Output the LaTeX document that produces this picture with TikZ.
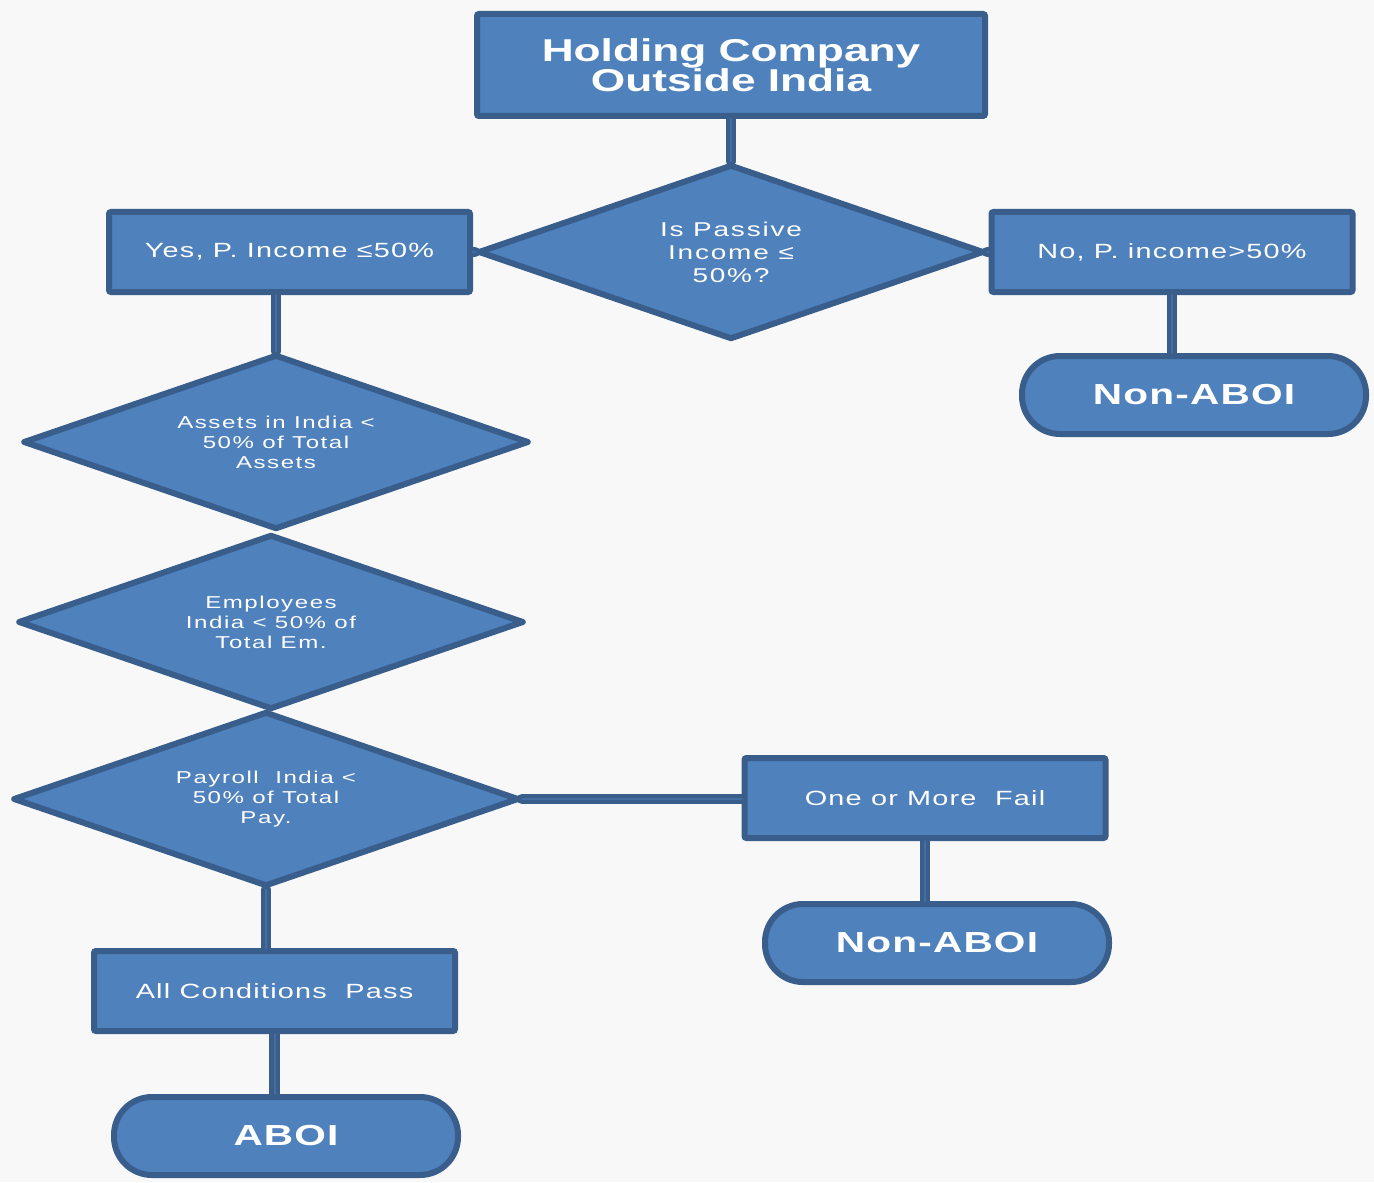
\documentclass[tikz,border=0pt]{standalone}
\usepackage{fontspec}
\setmainfont{Liberation Sans}[FakeStretch=1.4]
\usetikzlibrary{shapes.geometric,positioning}
\definecolor{boxfill}{RGB}{79,129,189}
\definecolor{boxline}{RGB}{57,94,140}
\definecolor{paper}{RGB}{248,248,248}

\tikzset{
  base/.style={draw=boxline, fill=boxfill, line width=3pt, text=white, align=center, inner sep=0pt},
  block/.style={base, rectangle, rounded corners=1pt, minimum width=180.5pt, minimum height=40pt,
    font=\fontsize{10.3}{11.5}\selectfont\addfontfeature{LetterSpace=6}},
  headbox/.style={base, rectangle, rounded corners=1pt, minimum width=254pt, minimum height=51pt,
    font=\fontsize{15.8}{15}\selectfont\bfseries},
  decide/.style={base, diamond, aspect=2.9, line join=round, minimum width=253pt, minimum height=87.5pt,
    font=\fontsize{8.6}{10}\selectfont\addfontfeature{LetterSpace=9}},
  endcap/.style={base, rectangle, rounded corners=19pt, minimum width=172pt, minimum height=39pt,
    font=\fontsize{14.5}{15}\selectfont\bfseries\addfontfeature{LetterSpace=4}},
  link/.style={draw=boxline, line width=2.2pt, double=boxline!55!boxfill, double distance=1pt, line cap=round}
}

\begin{document}
\begin{tikzpicture}[x=0.5pt, y=-0.5pt]

%Background
\fill[paper] (0,0) rectangle (1374,1182);
\useasboundingbox (0,0) rectangle (1374,1182);

%Top of the chart
\node[headbox] (top) at (731,65) {Holding Company\\Outside India};
\node[decide, font=\fontsize{10}{11.5}\selectfont\addfontfeature{LetterSpace=9}] (passive) at (731,252) {Is Passive\\Income ≤\\50\%?};
\node[block] (yes) at (289.5,252) {Yes, P. Income ≤50\%};
\node[block] (no) at (1172,252) {No, P. income>50\%};
\node[endcap] (nonA) at (1194,395) {Non-ABOI};

%The three tests
\node[decide] (assets) at (276,442) {Assets in India <\\50\% of Total\\Assets};
\node[decide] (staff) at (271,622) {Employees\\India < 50\% of\\Total Em.};
\node[decide] (pay) at (266,799) {Payroll~ India <\\50\% of Total\\Pay.};

%Outcomes
\node[block] (fail) at (925,798) {One or More~ Fail};
\node[endcap] (nonB) at (937,943) {Non-ABOI};
\node[block] (pass) at (274.5,991) {All Conditions~ Pass};
\node[endcap] (aboi) at (286,1136) {ABOI};

%Connectors
\draw[link] (top) -- (passive);
\draw[link] (passive.west) -- (yes.east);
\draw[link] (passive.east) -- (no.west);
\draw[link] (no.south) -- (no.south |- nonA.north);
\draw[link] (yes.south -| assets.north) -- (assets.north);
\draw[link] (pay.east) -- (pay.east -| fail.west);
\draw[link] (fail.south) -- (fail.south |- nonB.north);
\draw[link] (pay.south) -- (pay.south |- pass.north);
\draw[link] (pass.south) -- (pass.south |- aboi.north);
\end{tikzpicture}
\end{document}
